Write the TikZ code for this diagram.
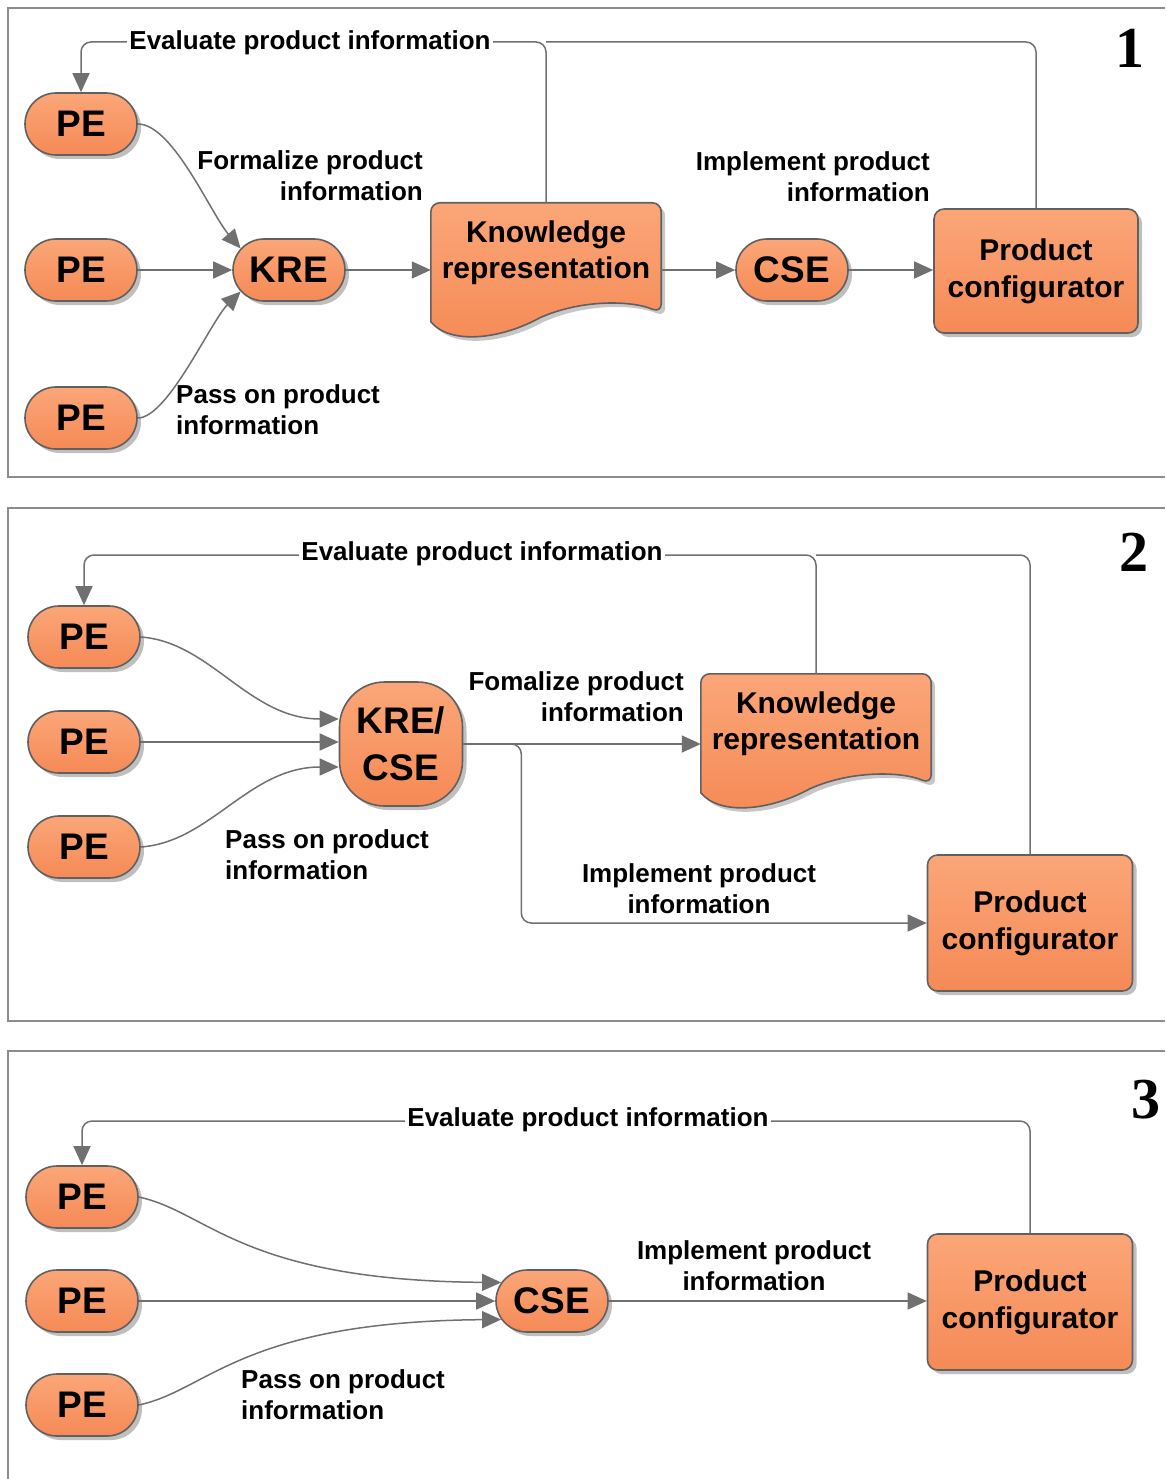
\documentclass[tikz,border=0pt]{standalone}
\usepackage{fontspec}
\setmainfont{Liberation Sans}
\newfontfamily\numfont{Liberation Serif}
\usetikzlibrary{shapes.misc,shadows,arrows.meta,calc}

\definecolor{nodetop}{RGB}{251,166,120}
\definecolor{nodebot}{RGB}{245,138,86}
\definecolor{edgegray}{RGB}{96,96,96}
\definecolor{wire}{RGB}{112,112,112}
\definecolor{framegray}{RGB}{140,140,140}

\tikzset{
  orange fill/.style={top color=nodetop, bottom color=nodebot, draw=edgegray, line width=1.6pt},
  shade3d/.style={drop shadow={shadow xshift=4pt, shadow yshift=-4pt, fill=black, opacity=0.25}},
  pill/.style={rounded rectangle, orange fill, shade3d, minimum width=112pt, minimum height=62pt,
    inner sep=0pt, font=\fontsize{37}{40}\selectfont\bfseries},
  squircle/.style={rectangle, rounded corners=45pt, orange fill, shade3d, minimum width=123pt,
    minimum height=124pt, inner sep=0pt, align=center, font=\fontsize{37}{47}\selectfont\bfseries},
  confbox/.style={rectangle, rounded corners=10pt, orange fill, shade3d, minimum width=204pt,
    minimum height=124pt, inner sep=0pt, align=center, font=\fontsize{30}{37}\selectfont\bfseries},
  docbox/.style={rectangle, minimum width=230pt, minimum height=137pt, inner sep=0pt},
  doctext/.style={align=center, inner sep=0pt, font=\fontsize{30}{36}\selectfont\bfseries},
  lbl/.style={inner sep=0pt, font=\fontsize{26}{31}\selectfont\bfseries},
  evlbl/.style={fill=white, inner sep=2pt, font=\fontsize{26}{31}\selectfont\bfseries},
  wireline/.style={draw=wire, line width=1.5pt},
  arr/.style={wireline, -{Triangle[length=19pt,width=17pt]}},
  fb/.style={rounded corners=10pt},
  framestyle/.style={draw=framegray, line width=2pt},
  panelno/.style={inner sep=0pt, font=\fontsize{58}{60}\selectfont\numfont\bfseries},
}

% document outline around a docbox node, offset by (#2,#3)
\newcommand\docoutline[3]{%
  ($(#1.north west)+(#2,119+#3)$) [rounded corners=9pt]
  -- ($(#1.north west)+(#2,#3)$) -- ($(#1.north east)+(#2,#3)$)
  -- ($(#1.north east)+(#2,110+#3)$) [sharp corners]
  .. controls ($(#1.north west)+(199+#2,97+#3)$) and ($(#1.north west)+(149+#2,97+#3)$)
  .. ($(#1.north west)+(109+#2,115+#3)$)
  .. controls ($(#1.north west)+(69+#2,137+#3)$) and ($(#1.north west)+(19+#2,142+#3)$)
  .. ($(#1.north west)+(#2,119+#3)$) -- cycle}
\newcommand\docshape[1]{%
  \fill[black, opacity=0.22] \docoutline{#1}{4}{4};
  \draw[orange fill] \docoutline{#1}{0}{0};}

\begin{document}
\begin{tikzpicture}[x=1pt, y=-1pt]
\useasboundingbox (0,0) rectangle (1165,1479);

% panel frames
\draw[framestyle] (1165,8) -- (8,8) -- (8,477) -- (1165,477);
\draw[framestyle] (1165,508) -- (8,508) -- (8,1021) -- (1165,1021);
\draw[framestyle] (1165,1051) -- (8,1051) -- (8,1479);

% ---------------- panel 1 ----------------
\node[pill] (PE1a) at (81,124) {PE};
\node[pill] (PE2a) at (81,270) {PE};
\node[pill] (PE3a) at (81,418) {PE};
\node[pill] (KRE) at (289,270) {KRE};
\node[docbox] (KR1) at (546,271.5) {};
\docshape{KR1}
\node[doctext] (KR1t) at ($(KR1.center)+(0,-19)$) {Knowledge\\representation};
\node[pill] (CSE1) at (792,270) {CSE};
\node[confbox] (PC1) at (1036,271) {Product\\configurator};

\draw[arr] (PE1a.east) .. controls +(35,0) and +(-30,-35) .. (KRE.156);
\draw[arr] (PE2a.east) -- (KRE.west);
\draw[arr] (PE3a.east) .. controls +(30,0) and +(-30,30) .. (KRE.204);
\draw[arr] (KRE.east) -- (KRE.east -| KR1.west);
\draw[arr] (KR1.east |- CSE1.west) -- (CSE1.west);
\draw[arr] (CSE1.east) -- (CSE1.east -| PC1.west);

\coordinate (top1) at (0,42);
\draw[arr, fb] (KR1.north) |- (PE1a.north |- top1) -- (PE1a.north);
\draw[wireline, fb] (PC1.north) |- (KR1.north |- top1);

\node[evlbl] (ev1) at (310,43) {Evaluate product information};
\node[lbl, anchor=east, align=right] (fo1) at (423,176) {Formalize product\\information};
\node[lbl, anchor=east, align=right] (im1) at (930,177) {Implement product\\information};
\node[lbl, anchor=west, align=left] (pa1) at (176,410) {Pass on product\\information};
\node[panelno] (n1) at (1130,48) {1};

% ---------------- panel 2 ----------------
\node[pill] (PE1b) at (84,637) {PE};
\node[pill] (PE2b) at (84,742) {PE};
\node[pill] (PE3b) at (84,847) {PE};
\node[squircle] (KC) at (401,744) {KRE/\\CSE};
\node[docbox] (KR2) at (816,742.5) {};
\docshape{KR2}
\node[doctext] (KR2t) at ($(KR2.center)+(0,-18.5)$) {Knowledge\\representation};
\node[confbox, minimum width=205pt, minimum height=136pt] (PC2) at (1030,923) {Product\\configurator};

\draw[arr] (PE1b.east) .. controls +(70,5) and +(-90,0) .. ($(KC.west)+(0,-25)$);
\draw[arr] (PE2b.east) -- (PE2b.east -| KC.west);
\draw[arr] (PE3b.east) .. controls +(70,-5) and +(-90,0) .. ($(KC.west)+(0,23)$);
\draw[arr] (KC.east) -- (KC.east -| KR2.west);
\coordinate (br2) at ($(KC.east)+(58,0)$);
\draw[arr, fb] (KC.east) -- (br2) |- (PC2.west);

\coordinate (top2) at (0,555);
\draw[arr, fb] (KR2.north) |- (PE1b.north |- top2) -- (PE1b.north);
\draw[wireline, fb] (PC2.north) |- (KR2.north |- top2);

\node[evlbl] (ev2) at (482,554) {Evaluate product information};
\node[lbl, anchor=east, align=right] (fo2) at (684,697) {Fomalize product\\information};
\node[lbl, align=center] (im2) at (699,889) {Implement product\\information};
\node[lbl, anchor=west, align=left] (pa2) at (225,855) {Pass on product\\information};
\node[panelno] (n2) at (1134,552) {2};

% ---------------- panel 3 ----------------
\node[pill] (PE1c) at (82,1197) {PE};
\node[pill] (PE2c) at (82,1301) {PE};
\node[pill] (PE3c) at (82,1405) {PE};
\node[pill] (CSE3) at (552,1301) {CSE};
\node[confbox, minimum width=205pt, minimum height=136pt] (PC3) at (1030,1302) {Product\\configurator};

\draw[arr] (PE1c.east) .. controls +(70,15) and +(-260,-2) .. (CSE3.160);
\draw[arr] (PE2c.east) -- (CSE3.west);
\draw[arr] (PE3c.east) .. controls +(70,-15) and +(-260,2) .. (CSE3.200);
\draw[arr] (CSE3.east) -- (CSE3.east -| PC3.west);

\coordinate (top3) at (0,1121);
\draw[arr, fb] (PC3.north) |- (PE1c.north |- top3) -- (PE1c.north);

\node[evlbl] (ev3) at (588,1120) {Evaluate product information};
\node[lbl, align=center] (im3) at (754,1266) {Implement product\\information};
\node[lbl, anchor=west, align=left] (pa3) at (241,1395) {Pass on product\\information};
\node[panelno] (n3) at (1146,1100) {3};
\end{tikzpicture}
\end{document}
